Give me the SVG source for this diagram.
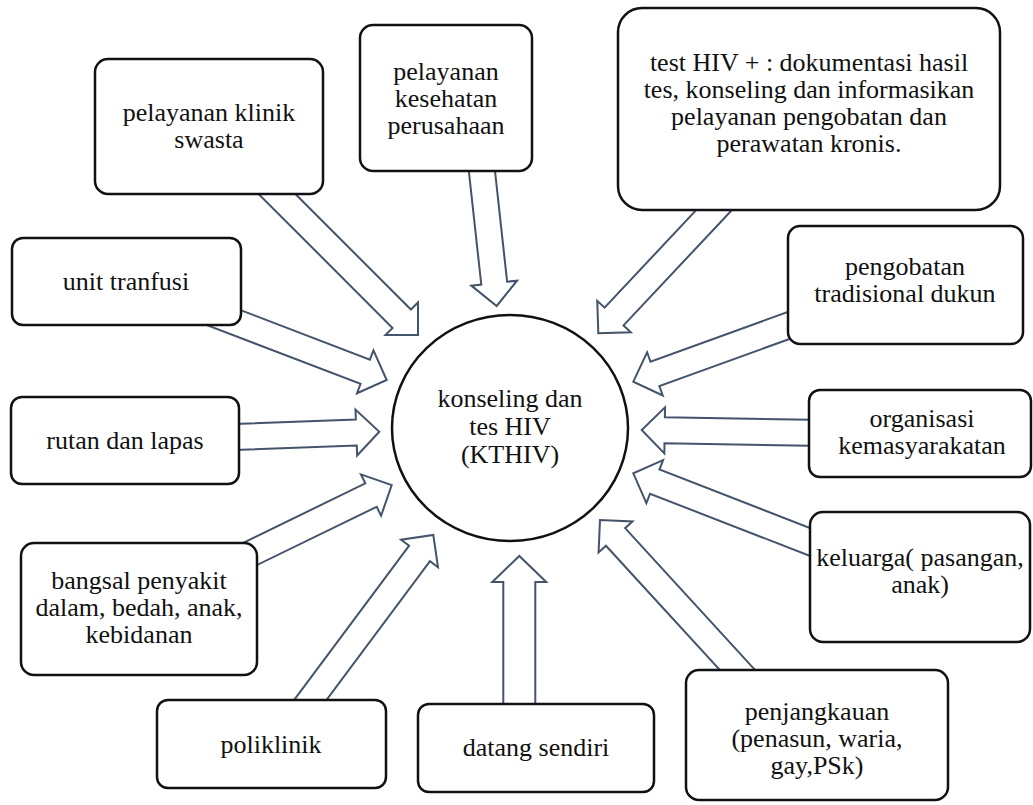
<svg xmlns="http://www.w3.org/2000/svg" width="1033" height="805" viewBox="0 0 1033 805">
<style>
.box{fill:#fff;stroke:#111;stroke-width:2.5}
.arr{fill:#fff;stroke:#44546a;stroke-width:2;stroke-linejoin:miter}
text{font-family:"Liberation Serif","Times New Roman",serif;font-size:26px;fill:#111;text-anchor:middle}
</style>
<rect width="1033" height="805" fill="#fff"/>
<g id="connectors">
<polygon class="arr" transform="translate(418,335) rotate(45)" points="-215,-13 -23,-13 -23,-23 0,0 -23,23 -23,13 -215,13"/>
<polygon class="arr" transform="translate(496.7,306) rotate(83.75)" points="-150,-13 -23,-13 -23,-23 0,0 -23,23 -23,13 -150,13"/>
<polygon class="arr" transform="translate(598.3,333.3) rotate(133.2)" points="-190,-13 -23,-13 -23,-23 0,0 -23,23 -23,13 -190,13"/>
<polygon class="arr" transform="translate(386.7,380) rotate(20.95)" points="-200,-13 -23,-13 -23,-23 0,0 -23,23 -23,13 -200,13"/>
<polygon class="arr" transform="translate(379.3,431.7) rotate(-2.06)" points="-175,-13 -23,-13 -23,-23 0,0 -23,23 -23,13 -175,13"/>
<polygon class="arr" transform="translate(391.7,485) rotate(-25.96)" points="-185,-13 -23,-13 -23,-23 0,0 -23,23 -23,13 -185,13"/>
<polygon class="arr" transform="translate(433.3,535) rotate(-53.3)" points="-225,-13 -23,-13 -23,-23 0,0 -23,23 -23,13 -225,13"/>
<polygon class="arr" transform="translate(519.3,556) rotate(-90)" points="-165,-16 -26,-16 -26,-27 0,0 -26,27 -26,16 -165,16"/>
<polygon class="arr" transform="translate(600,520) rotate(-132.5)" points="-225,-13 -23,-13 -23,-23 0,0 -23,23 -23,13 -225,13"/>
<polygon class="arr" transform="translate(633.3,473.3) rotate(-158.75)" points="-210,-13 -23,-13 -23,-23 0,0 -23,23 -23,13 -210,13"/>
<polygon class="arr" transform="translate(641.7,430) rotate(-179.1)" points="-185,-13 -23,-13 -23,-23 0,0 -23,23 -23,13 -185,13"/>
<polygon class="arr" transform="translate(633.3,381.7) rotate(160.1)" points="-185,-13 -23,-13 -23,-23 0,0 -23,23 -23,13 -185,13"/>
</g>
<g font-family="Liberation Serif, Times New Roman, serif">
<g id="center">
<ellipse class="box" cx="510" cy="428" rx="118" ry="113"/>
<text x="510" y="407">konseling dan</text>
<text x="510" y="435">tes HIV</text>
<text x="510" y="463">(KTHIV)</text>
</g>
<g id="klinik">
<rect class="box" x="95" y="59" width="228" height="135" rx="13"/>
<text x="209" y="121">pelayanan klinik</text>
<text x="209" y="148">swasta</text>
</g>
<g id="perusahaan">
<rect class="box" x="360" y="25" width="172" height="146" rx="13"/>
<text x="446" y="80">pelayanan</text>
<text x="446" y="107">kesehatan</text>
<text x="446" y="134">perusahaan</text>
</g>
<g id="testhiv">
<rect class="box" x="618" y="8" width="382" height="202" rx="24"/>
<text x="809" y="71">test HIV + : dokumentasi hasil</text>
<text x="809" y="98">tes, konseling dan informasikan</text>
<text x="809" y="125">pelayanan pengobatan dan</text>
<text x="809" y="152">perawatan kronis.</text>
</g>
<g id="unit">
<rect class="box" x="12" y="238" width="229" height="87" rx="11"/>
<text x="126" y="290">unit tranfusi</text>
</g>
<g id="rutan">
<rect class="box" x="11" y="397" width="228" height="87" rx="11"/>
<text x="125" y="449">rutan dan lapas</text>
</g>
<g id="pengobatan">
<rect class="box" x="788" y="226" width="235" height="118" rx="12"/>
<text x="905" y="275">pengobatan</text>
<text x="905" y="302">tradisional dukun</text>
</g>
<g id="organisasi">
<rect class="box" x="809" y="390" width="222" height="87" rx="11"/>
<text x="922" y="427">organisasi</text>
<text x="922" y="454">kemasyarakatan</text>
</g>
<g id="bangsal">
<rect class="box" x="21" y="543" width="236" height="132" rx="13"/>
<text x="139" y="589">bangsal penyakit</text>
<text x="139" y="616">dalam, bedah, anak,</text>
<text x="139" y="643">kebidanan</text>
</g>
<g id="poliklinik">
<rect class="box" x="157" y="700" width="229" height="88" rx="11"/>
<text x="271" y="753">poliklinik</text>
</g>
<g id="datang">
<rect class="box" x="418" y="704" width="236" height="88" rx="11"/>
<text x="536" y="756">datang sendiri</text>
</g>
<g id="keluarga">
<rect class="box" x="810" y="512" width="220" height="130" rx="13"/>
<text x="920" y="566">keluarga( pasangan,</text>
<text x="920" y="593">anak)</text>
</g>
<g id="penjangkauan">
<rect class="box" x="686" y="670" width="262" height="130" rx="13"/>
<text x="817" y="720">penjangkauan</text>
<text x="817" y="747">(penasun, waria,</text>
<text x="817" y="774">gay,PSk)</text>
</g>
</g>
</svg>
